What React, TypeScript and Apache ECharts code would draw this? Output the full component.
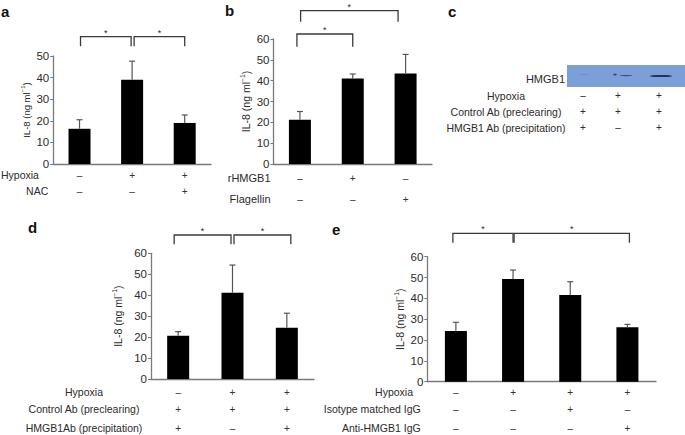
import React, { useEffect, useRef } from 'react';
import * as echarts from 'echarts';

const FONT = '"Liberation Sans", Arial, Helvetica, sans-serif';
const AXIS_COLOR = '#7a7a7a';
const TEXT_COLOR = '#2b2b2b';

// ---------- Panel a ----------
const aCategories = ['a1', 'a2', 'a3'];
const aValues = [16.3, 39.0, 19.0];
const aErrors = [4.2, 8.6, 3.7];
const aRowLabels = ['Hypoxia', 'NAC'];
const aRowSigns = [['–', '+', '+'], ['–', '–', '+']];
const aBrackets = [[0, 1], [1, 2]];

// ---------- Panel b ----------
const bCategories = ['b1', 'b2', 'b3'];
const bValues = [21.3, 41.0, 43.4];
const bErrors = [3.9, 2.2, 9.2];
const bRowLabels = ['rHMGB1', 'Flagellin'];
const bRowSigns = [['–', '+', '–'], ['–', '–', '+']];
const bBrackets = [[0, 2], [0, 1]];

// ---------- Panel c (western blot) ----------
const cBlotLabel = 'HMGB1';
const cRowLabels = ['Hypoxia', 'Control Ab (preclearing)', 'HMGB1 Ab (precipitation)'];
const cRowSigns = [['–', '+', '+'], ['+', '+', '+'], ['+', '–', '+']];

// ---------- Panel d ----------
const dCategories = ['d1', 'd2', 'd3'];
const dValues = [20.7, 41.2, 24.5];
const dErrors = [1.9, 13.2, 6.9];
const dRowLabels = ['Hypoxia', 'Control Ab (preclearing)', 'HMGB1Ab (precipitation)'];
const dRowSigns = [['–', '+', '+'], ['+', '+', '+'], ['+', '–', '+']];
const dBrackets = [[0, 1], [1, 2]];

// ---------- Panel e ----------
const eCategories = ['e1', 'e2', 'e3', 'e4'];
const eValues = [24.3, 49.3, 41.6, 26.1];
const eErrors = [4.2, 4.3, 6.4, 1.4];
const eRowLabels = ['Hypoxia', 'Isotype matched IgG', 'Anti-HMGB1 IgG'];
const eRowSigns = [['–', '+', '+', '+'], ['–', '–', '+', '–'], ['–', '–', '–', '+']];
const eBrackets = [[0, 1], [1, 3]];

const yTickMaxA = 50;
const yTickMax = 60;
const yTickStep = 10;

type PanelSpec = {
  cats: string[];
  values: number[];
  errors: number[];
  rowLabels: string[];
  rowSigns: string[][];
  brackets: number[][];
  grid: { left: number; top: number; width: number; height: number };
  max: number;
  rowOffsets: number[];
  rowAlign: 'right' | 'center';
  rowGap: number;
  rowFont: number;
  yNameGap: number;
  yNameSize: number;
  bracketGeo: number[][]; // [topAbove, tip, dx0, dx1]
};

const panels: PanelSpec[] = [
  {
    cats: aCategories, values: aValues, errors: aErrors, rowLabels: aRowLabels, rowSigns: aRowSigns, brackets: aBrackets,
    grid: { left: 48, top: 56, width: 163, height: 108 }, max: yTickMaxA,
    rowOffsets: [11, 27], rowAlign: 'right', rowGap: 5, rowFont: 10.5,
    yNameGap: 20, yNameSize: 9.5,
    bracketGeo: [[19.3, 9.5, 1, -1], [19.3, 9.5, 2, 0]],
  },
  {
    cats: bCategories, values: bValues, errors: bErrors, rowLabels: bRowLabels, rowSigns: bRowSigns, brackets: bBrackets,
    grid: { left: 273.5, top: 39, width: 158.5, height: 125 }, max: yTickMax,
    rowOffsets: [14, 35], rowAlign: 'right', rowGap: 3, rowFont: 11,
    yNameGap: 21, yNameSize: 10.5,
    bracketGeo: [[28.3, 11, 0.7, -7.5], [5, 12.7, -3, 0]],
  },
  {
    cats: dCategories, values: dValues, errors: dErrors, rowLabels: dRowLabels, rowSigns: dRowSigns, brackets: dBrackets,
    grid: { left: 151, top: 253.3, width: 163, height: 125.7 }, max: yTickMax,
    rowOffsets: [13, 30.3, 49.3], rowAlign: 'center', rowGap: 67, rowFont: 10.5,
    yNameGap: 26, yNameSize: 10.5,
    bracketGeo: [[18.3, 9.3, -4, -1.5], [18.3, 9.3, 1.5, 4]],
  },
  {
    cats: eCategories, values: eValues, errors: eErrors, rowLabels: eRowLabels, rowSigns: eRowSigns, brackets: eBrackets,
    grid: { left: 427.3, top: 256.7, width: 228.7, height: 125 }, max: yTickMax,
    rowOffsets: [10.3, 27.6, 46.6], rowAlign: 'right', rowGap: 6.6, rowFont: 10.5,
    yNameGap: 20, yNameSize: 10.5,
    bracketGeo: [[23.4, 9.4, -3, 0], [23.4, 9.4, 1, 2]],
  },
];

function buildOption() {
  const grids: any[] = [];
  const xAxes: any[] = [];
  const yAxes: any[] = [];
  const series: any[] = [];

  panels.forEach((p, gi) => {
    grids.push({ ...p.grid, containLabel: false });
    const mainX = xAxes.length;
    xAxes.push({
      type: 'category',
      gridIndex: gi,
      data: p.cats,
      position: 'bottom',
      axisLine: { show: true, lineStyle: { color: AXIS_COLOR, width: 1.3 } },
      axisTick: { show: false },
      axisLabel: { show: false },
      splitLine: { show: false },
    });
    p.rowLabels.forEach((lab, ri) => {
      const signs = p.rowSigns[ri];
      xAxes.push({
        type: 'category',
        gridIndex: gi,
        data: p.cats,
        position: 'bottom',
        offset: p.rowOffsets[ri],
        axisLine: { show: false },
        axisTick: { show: false },
        splitLine: { show: false },
        axisLabel: {
          show: true,
          interval: 0,
          margin: 0,
          verticalAlign: 'middle',
          fontSize: 10,
          fontFamily: FONT,
          color: '#333333',
          formatter: (_v: string, idx: number) => signs[idx],
        },
        name: lab,
        nameLocation: 'start',
        nameGap: p.rowGap,
        nameTextStyle: {
          fontSize: p.rowFont,
          fontFamily: FONT,
          color: TEXT_COLOR,
          align: p.rowAlign,
          verticalAlign: 'middle',
        },
      });
    });

    yAxes.push({
      type: 'value',
      gridIndex: gi,
      min: 0,
      max: p.max,
      interval: yTickStep,
      axisLine: { show: true, lineStyle: { color: AXIS_COLOR, width: 1.3 } },
      axisTick: { show: true, length: 3, lineStyle: { color: AXIS_COLOR } },
      axisLabel: { fontSize: 11.5, fontFamily: FONT, color: TEXT_COLOR, margin: 4 },
      splitLine: { show: false },
      name: '{t|IL-8 (ng ml}{s|−1}{t|)}',
      nameLocation: 'middle',
      nameRotate: 90,
      nameGap: p.yNameGap,
      nameTextStyle: {
        rich: {
          t: { fontSize: p.yNameSize, fontFamily: FONT, color: TEXT_COLOR, lineHeight: 14 },
          s: { fontSize: p.yNameSize * 0.65, fontFamily: FONT, color: TEXT_COLOR, lineHeight: 14, verticalAlign: 'top' },
        },
      },
    });

    series.push({
      type: 'bar',
      xAxisIndex: mainX,
      yAxisIndex: gi,
      data: p.values,
      barWidth: 22,
      itemStyle: { color: '#000' },
      z: 2,
    });

    series.push({
      type: 'custom',
      xAxisIndex: mainX,
      yAxisIndex: gi,
      data: p.values.map((v, i) => [i, v, v + p.errors[i]]),
      z: 3,
      renderItem: (_params: any, api: any) => {
        const b = api.coord([api.value(0), api.value(1)]);
        const t = api.coord([api.value(0), api.value(2)]);
        const st = { stroke: '#555', lineWidth: 1.2 };
        return {
          type: 'group',
          children: [
            { type: 'line', shape: { x1: b[0], y1: b[1], x2: t[0], y2: t[1] }, style: st },
            { type: 'line', shape: { x1: t[0] - 3, y1: t[1], x2: t[0] + 3, y2: t[1] }, style: st },
          ],
        };
      },
    });

    series.push({
      type: 'custom',
      xAxisIndex: mainX,
      yAxisIndex: gi,
      data: p.brackets.map((br) => [br[0], br[1]]),
      clip: false,
      z: 4,
      renderItem: (params: any, api: any) => {
        const i = params.dataIndex;
        const from = p.brackets[i][0];
        const to = p.brackets[i][1];
        const g = p.bracketGeo[i];
        const x0 = api.coord([from, 0])[0] + g[2];
        const x1 = api.coord([to, 0])[0] + g[3];
        const yT = params.coordSys.y - g[0];
        return {
          type: 'group',
          children: [
            {
              type: 'polyline',
              shape: { points: [[x0, yT + g[1]], [x0, yT], [x1, yT], [x1, yT + g[1]]] },
              style: { stroke: '#3a3a3a', lineWidth: 1.3, fill: 'none' },
            },
            {
              type: 'text',
              style: {
                text: '*',
                x: (x0 + x1) / 2,
                y: yT - 4,
                align: 'center',
                verticalAlign: 'middle',
                textAlign: 'center',
                textVerticalAlign: 'middle',
                fontSize: 9,
                fontFamily: FONT,
                fill: TEXT_COLOR,
              },
            },
          ],
        };
      },
    });
  });

  // ---------- graphics: panel letters & panel c ----------
  const letter = (t: string, x: number, y: number) => ({
    type: 'text',
    x,
    y,
    style: {
      text: t,
      fontSize: 15,
      fontWeight: 'bold',
      fontFamily: FONT,
      fill: '#111',
      align: 'left',
      verticalAlign: 'middle',
      textAlign: 'left',
      textVerticalAlign: 'middle',
    },
  });

  const txt = (t: string, x: number, y: number, align: string, size: number) => ({
    type: 'text',
    x,
    y,
    style: {
      text: t,
      fontSize: size,
      fontFamily: FONT,
      fill: TEXT_COLOR,
      align,
      verticalAlign: 'middle',
      textAlign: align,
      textVerticalAlign: 'middle',
    },
  });

  const cColX = [583, 618, 659];
  const cRowY = [95.7, 111.7, 127.7];
  const graphics: any[] = [
    letter('a', 1, 11),
    letter('b', 225, 10),
    letter('c', 448, 11.5),
    letter('d', 28, 227.5),
    letter('e', 332, 229),
    // blot
    { type: 'rect', shape: { x: 567, y: 65, width: 118, height: 22 }, style: { fill: '#7b9fd6' } },
    { type: 'ellipse', shape: { cx: 584, cy: 74.5, rx: 5, ry: 0.4 }, style: { fill: 'rgba(70,95,160,0.3)' } },
    { type: 'ellipse', shape: { cx: 615, cy: 74.6, rx: 1.8, ry: 0.8 }, style: { fill: '#34467e', shadowBlur: 1, shadowColor: 'rgba(30,45,100,0.5)' } },
    { type: 'ellipse', shape: { cx: 626, cy: 75.6, rx: 6, ry: 0.6 }, style: { fill: '#3d4f86', shadowBlur: 1, shadowColor: 'rgba(30,45,100,0.5)' } },
    { type: 'ellipse', shape: { cx: 661, cy: 76, rx: 11, ry: 1.1 }, style: { fill: '#22305f', shadowBlur: 1.5, shadowColor: 'rgba(20,30,80,0.6)' } },
    txt(cBlotLabel, 565, 79, 'right', 11),
  ];
  cRowLabels.forEach((lab, ri) => {
    graphics.push(txt(lab, 506, cRowY[ri], 'center', 10.5));
    cRowSigns[ri].forEach((s, ci) => graphics.push(txt(s, cColX[ci], cRowY[ri], 'center', 10)));
  });

  return {
    animation: false,
    backgroundColor: '#ffffff',
    textStyle: { fontFamily: FONT },
    grid: grids,
    xAxis: xAxes,
    yAxis: yAxes,
    series,
    graphic: graphics,
  };
}

export default function App() {
  const ref = useRef<HTMLDivElement>(null);
  useEffect(() => {
    if (!ref.current) return;
    const chart = echarts.init(ref.current, undefined, { renderer: 'svg' });
    chart.setOption(buildOption() as any);
    return () => chart.dispose();
  }, []);
  return (
    <div
      ref={ref}
      style={{ position: 'fixed', left: 0, top: 0, width: 685, height: 435, background: '#fff' }}
    />
  );
}
